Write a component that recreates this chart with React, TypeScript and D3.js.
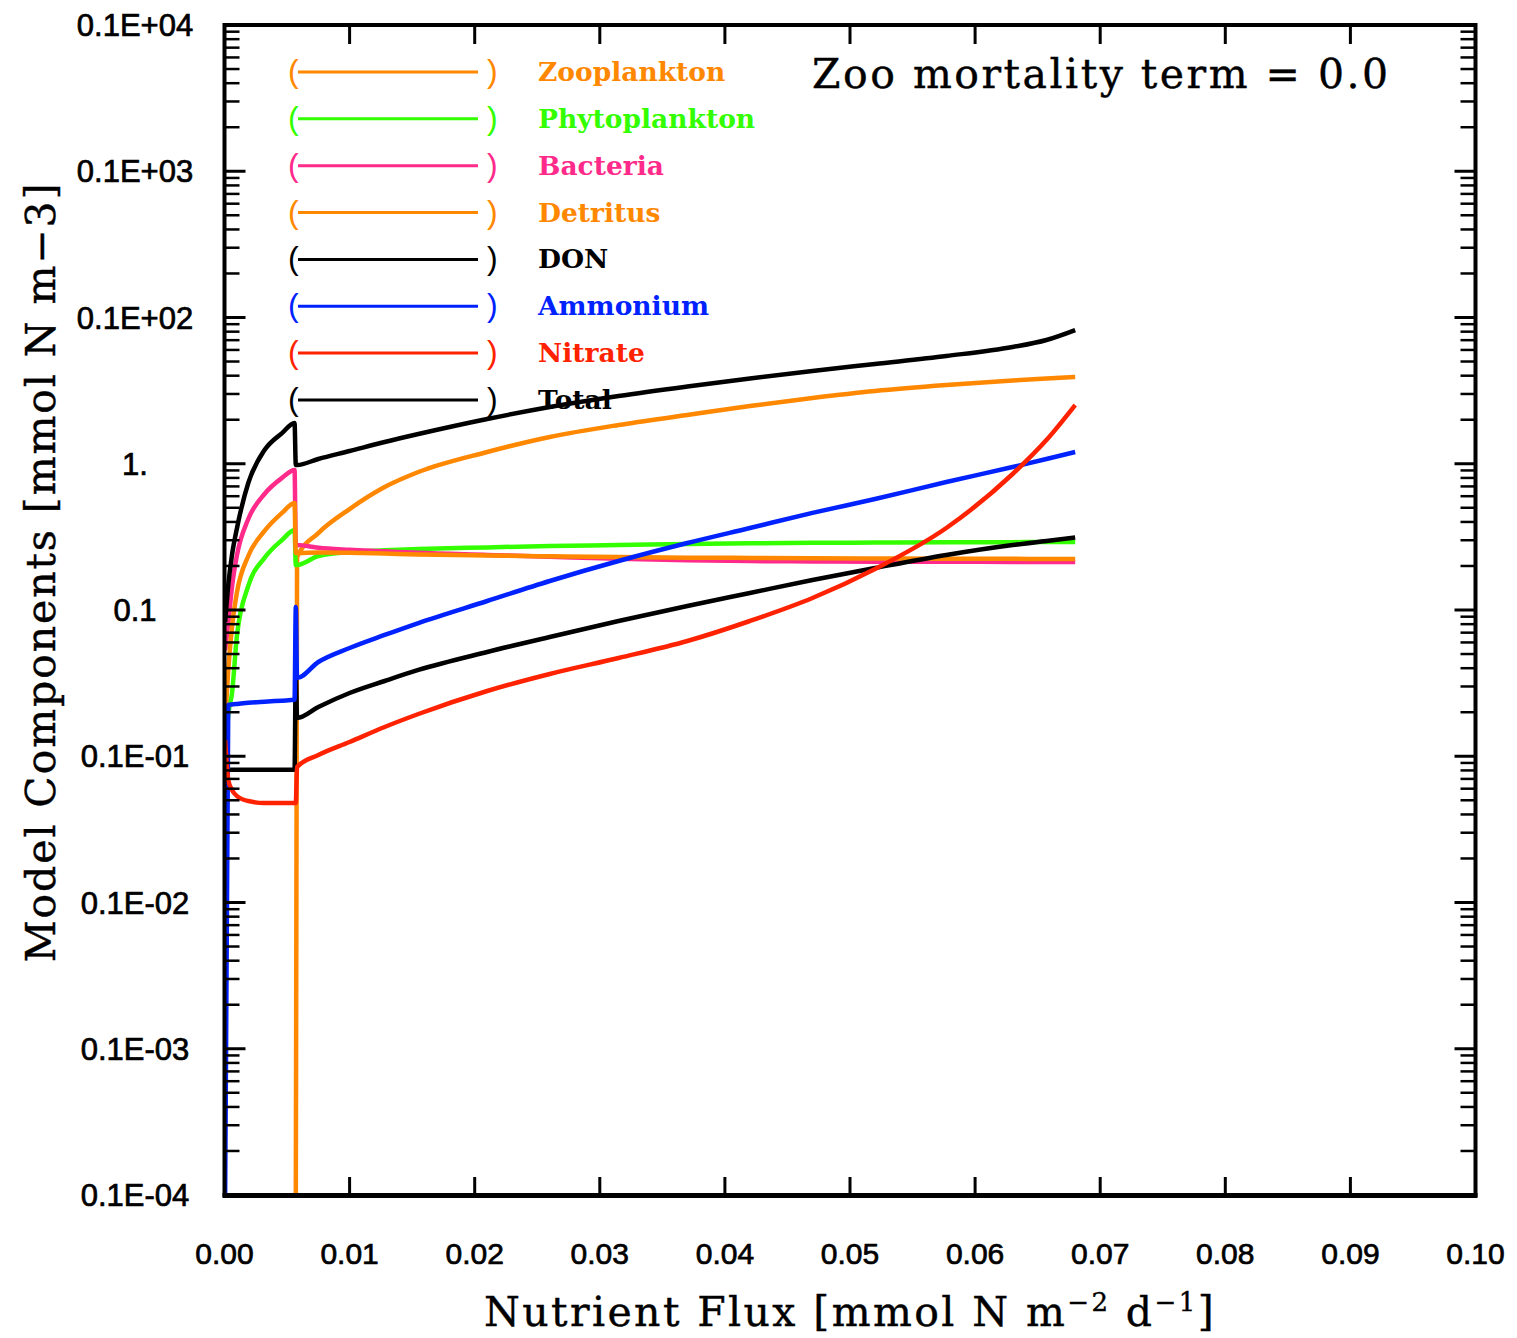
import React from 'react';
import * as d3 from 'd3';

// ---- data ----
const xValues = [0.00005, 0.0003, 0.0006, 0.001, 0.0019, 0.0032, 0.0046, 0.0056, 0.0057,
  0.0058, 0.0075, 0.010, 0.0128, 0.0155, 0.021, 0.026, 0.0315, 0.037, 0.042, 0.047, 0.052, 0.0577, 0.063, 0.0657, 0.068];

const zooplankton = [0, 0, 0, 0, 0, 0, 0, 0, 0,
  0.230, 0.336, 0.490, 0.693, 0.878, 1.203, 1.524, 1.841, 2.154, 2.483, 2.816, 3.144, 3.455, 3.709, 3.828, 3.920];
const phytoplankton = [0.0094, 0.0191, 0.027, 0.0675, 0.146, 0.227, 0.301, 0.352, 0.203,
  0.203, 0.234, 0.249, 0.256, 0.261, 0.268, 0.274, 0.278, 0.283, 0.286, 0.288, 0.289, 0.290, 0.291, 0.292, 0.292];
const bacteria = [0.053, 0.0815, 0.144, 0.238, 0.419, 0.621, 0.80, 0.906, 0.278,
  0.278, 0.266, 0.258, 0.252, 0.246, 0.238, 0.231, 0.224, 0.219, 0.216, 0.215, 0.214, 0.214, 0.213, 0.213, 0.213];
const detritus = [0.0177, 0.0389, 0.0766, 0.133, 0.234, 0.347, 0.461, 0.539, 0.245,
  0.245, 0.247, 0.246, 0.243, 0.240, 0.236, 0.233, 0.230, 0.228, 0.227, 0.226, 0.225, 0.224, 0.224, 0.223, 0.223];
const don = [0.0081, 0.0081, 0.0081, 0.0081, 0.0081, 0.0081, 0.0081, 0.0081, 0.0389,
  0.01826, 0.02172, 0.02706, 0.03270, 0.0389, 0.05162, 0.06538, 0.0841, 0.1065, 0.1307, 0.1604, 0.1937, 0.2377, 0.278, 0.2963, 0.3131];
const ammonium = [0.00001, 0.0224, 0.0226, 0.0228, 0.0232, 0.0236, 0.024, 0.0243, 0.1048,
  0.03428, 0.04410, 0.05499, 0.06748, 0.08148, 0.1152, 0.1579, 0.2163, 0.2871, 0.3637, 0.461, 0.5741, 0.750, 0.950, 1.078, 1.203];
const nitrate = [0.0129, 0.00689, 0.00588, 0.00534, 0.00494, 0.00479, 0.00479, 0.00479, 0.00479,
  0.008443, 0.01020, 0.01252, 0.01585, 0.01945, 0.02794, 0.03651, 0.04696, 0.06138, 0.0841, 0.1208, 0.1907, 0.3637, 0.851, 1.453, 2.522];
const total = [0.083, 0.148, 0.238, 0.364, 0.738, 1.24, 1.62, 1.90, 0.981,
  0.981, 1.078, 1.222, 1.409, 1.597, 2.023, 2.443, 2.906, 3.375, 3.828, 4.307, 4.810, 5.456, 6.285, 7.02, 8.21];

const seriesNames = ['Zooplankton', 'Phytoplankton', 'Bacteria', 'Detritus', 'DON', 'Ammonium', 'Nitrate', 'Total'];
const seriesColors = ['#ff8800', '#33ff00', '#ff2a8a', '#ff8800', '#000000', '#0022ff', '#ff2200', '#000000'];
const seriesValues = [zooplankton, phytoplankton, bacteria, detritus, don, ammonium, nitrate, total];

const xTicks = [0, 0.01, 0.02, 0.03, 0.04, 0.05, 0.06, 0.07, 0.08, 0.09, 0.10];
const xTickLabels = ['0.00', '0.01', '0.02', '0.03', '0.04', '0.05', '0.06', '0.07', '0.08', '0.09', '0.10'];
const yTicks = [1e-5, 1e-4, 1e-3, 1e-2, 1e-1, 1, 10, 100, 1000];
const yTickLabels = ['0.1E-04', '0.1E-03', '0.1E-02', '0.1E-01', '0.1', '1.', '0.1E+02', '0.1E+03', '0.1E+04'];

const titleText = 'Zoo mortality term = 0.0';

// ---- layout ----
const W = 1517, H = 1338;
const L = 224.5, R = 1475.5, T = 25, B = 1195;

export default function App() {
  const x = d3.scaleLinear().domain([0, 0.1]).range([L, R]);
  const y = d3.scaleLog().domain([1e-5, 1e3]).range([B, T]);
  const yMin = 1e-5;
  // values of zero lie below the log axis: push them just outside the clip
  const yPos = (v: number) => (v <= 0 ? B + 5 : y(Math.max(v, yMin)));
  const line = d3.line<[number, number]>()
    .x(d => x(d[0]))
    .y(d => yPos(d[1]))
    .curve(d3.curveMonotoneX);

  const minor: number[] = [];
  for (let d = -5; d < 3; d++) for (let k = 2; k <= 9; k++) minor.push(k * Math.pow(10, d));

  const serif = '"DejaVu Serif", serif';
  const sans = '"Liberation Sans", Arial, sans-serif';
  const legendY0 = 72, legendDy = 46.85;

  return (
    <svg width={W} height={H} style={{ position: 'absolute', left: 0, top: 0, background: '#fff' }}>
      <defs>
        <clipPath id="plotclip"><rect x={L} y={T} width={R - L} height={B - T} /></clipPath>
      </defs>
      <rect x={0} y={0} width={W} height={H} fill="#fff" />

      {/* legend */}
      {seriesNames.map((n, i) => {
        const ly = legendY0 + i * legendDy;
        const c = seriesColors[i];
        return (
          <g key={n}>
            <text x={288} y={ly + 10} fontFamily={sans} fontSize={32} fill={c}>(</text>
            <line x1={298} x2={478} y1={ly} y2={ly} stroke={c} strokeWidth={3} />
            <text x={487} y={ly + 10} fontFamily={sans} fontSize={32} fill={c}>)</text>
            <text x={538} y={ly + 9} fontFamily={serif} fontWeight="bold" fontSize={26.5} fill={c}>{n}</text>
          </g>
        );
      })}

      {/* title */}
      <text x={812} y={88} fontFamily={serif} fontSize={41} letterSpacing={2.5} fill="#000"
        stroke="#000" strokeWidth={0.4}>{titleText}</text>

      {/* data lines */}
      <g clipPath="url(#plotclip)">
        {seriesValues.map((vals, i) => (
          <path key={seriesNames[i]}
            d={line(xValues.map((xv, j) => [xv, vals[j]] as [number, number])) || ''}
            fill="none" stroke={seriesColors[i]} strokeWidth={4.5} strokeLinejoin="round" />
        ))}
      </g>

      {/* frame */}
      <rect x={L} y={T} width={R - L} height={B - T} fill="none" stroke="#000" strokeWidth={4} />
      <line x1={L - 2} x2={R + 2} y1={B + 0.5} y2={B + 0.5} stroke="#000" strokeWidth={5} />

      {/* x ticks */}
      {xTicks.map((t, i) => (
        <g key={'x' + i}>
          <line x1={x(t)} x2={x(t)} y1={B} y2={B - 18} stroke="#000" strokeWidth={3} />
          <line x1={x(t)} x2={x(t)} y1={T} y2={T + 19} stroke="#000" strokeWidth={3} />
          <text x={x(t)} y={1264} textAnchor="middle" fontFamily={sans} fontSize={30} fill="#000"
            stroke="#000" strokeWidth={0.7}>{xTickLabels[i]}</text>
        </g>
      ))}

      {/* y ticks */}
      {yTicks.map((t, i) => (
        <g key={'y' + i}>
          <line x1={L} x2={L + 21} y1={y(t)} y2={y(t)} stroke="#000" strokeWidth={3} />
          <line x1={R} x2={R - 21} y1={y(t)} y2={y(t)} stroke="#000" strokeWidth={3} />
          <text x={135} y={y(t)} dy="0.36em" textAnchor="middle" fontFamily={sans} fontSize={31} fill="#000"
            stroke="#000" strokeWidth={0.7}>{yTickLabels[i]}</text>
        </g>
      ))}
      {minor.map((t, i) => (
        <g key={'m' + i}>
          <line x1={L} x2={L + 15} y1={y(t)} y2={y(t)} stroke="#000" strokeWidth={2.5} />
          <line x1={R} x2={R - 15} y1={y(t)} y2={y(t)} stroke="#000" strokeWidth={2.5} />
        </g>
      ))}

      {/* axis titles */}
      <text x={850} y={1326} textAnchor="middle" fontFamily={serif} fontSize={41} letterSpacing={2.4} fill="#000"
        stroke="#000" strokeWidth={0.4}>
        Nutrient Flux [mmol N m<tspan dy={-15} fontSize={26}>−2</tspan><tspan dy={15}> d</tspan><tspan dy={-15} fontSize={26}>−1</tspan><tspan dy={15}>]</tspan>
      </text>
      <text transform="translate(55,572) rotate(-90)" textAnchor="middle" fontFamily={serif} fontSize={41}
        letterSpacing={1.9} fill="#000" stroke="#000" strokeWidth={0.4}>
        Model Components [mmol N m−3]
      </text>
    </svg>
  );
}
